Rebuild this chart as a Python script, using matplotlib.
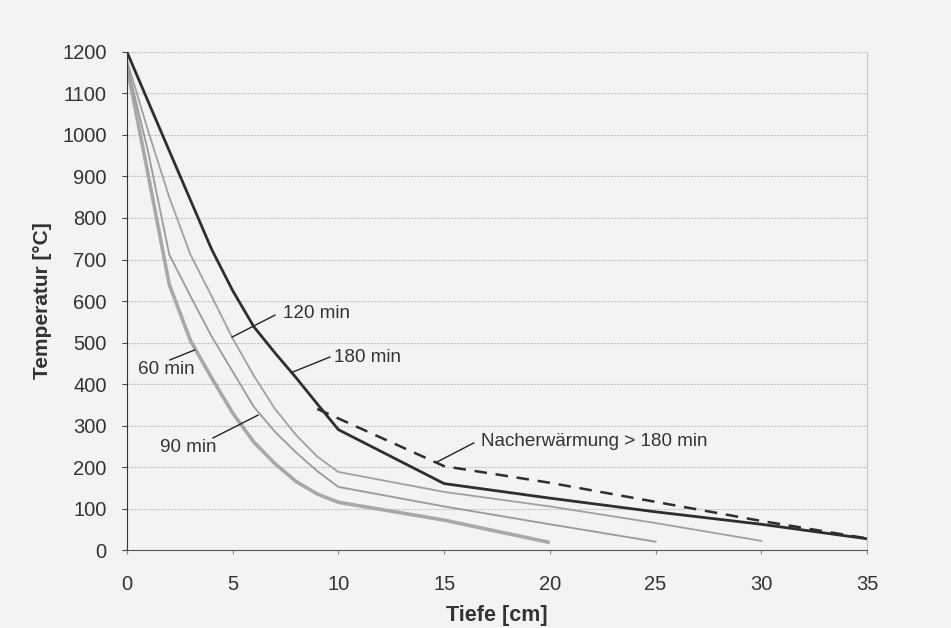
import matplotlib
matplotlib.use("Agg")
import matplotlib.pyplot as plt

# Tiefe [cm] / Temperatur [°C]
depth_60 = [0, 1, 2, 3, 4, 5, 6, 7, 8, 9, 10, 15, 20]
temp_60 = [1165, 905, 640, 505, 415, 330, 260, 208, 165, 135, 115, 72, 18]

depth_90 = [0, 1, 2, 3, 4, 5, 6, 7, 8, 9, 10, 15, 20, 25]
temp_90 = [1170, 960, 712, 612, 515, 430, 345, 285, 235, 190, 152, 105, 62, 20]

depth_120 = [0, 1, 2, 3, 4, 5, 6, 7, 8, 9, 10, 15, 20, 25, 30]
temp_120 = [1180, 1010, 850, 712, 612, 510, 420, 340, 277, 225, 188, 140, 105, 65, 22]

depth_180 = [0, 2, 4, 5, 6, 7, 8, 9, 10, 15, 20, 25, 30, 35]
temp_180 = [1200, 962, 725, 625, 538, 475, 415, 352, 290, 160, 125, 92, 62, 27]

depth_nach = [9, 15, 20, 25, 30, 35]
temp_nach = [340, 202, 162, 116, 70, 28]

x_ticks = [0, 5, 10, 15, 20, 25, 30, 35]
y_ticks = list(range(0, 1201, 100))

plt.rcParams["font.family"] = ["Liberation Sans", "DejaVu Sans"]

bg = "#f3f3f1"
fig = plt.figure(figsize=(9.51, 6.28), dpi=100, facecolor=bg)
ax = fig.add_axes([0.1335, 0.1242, 0.7782, 0.793])
ax.set_facecolor(bg)

ax.plot(depth_60, temp_60, color="#a8a8a8", linewidth=2.6, solid_capstyle="butt")
ax.plot(depth_90, temp_90, color="#9a9a9a", linewidth=1.3)
ax.plot(depth_120, temp_120, color="#a0a0a0", linewidth=1.3)
ax.plot(depth_180, temp_180, color="#2e2e2e", linewidth=2.0)
ax.plot(depth_nach, temp_nach, color="#2e2e2e", linewidth=1.8,
        linestyle=(0, (5, 3.5)))

ax.set_xlim(0, 35)
ax.set_ylim(0, 1200)
ax.set_xticks(x_ticks)
ax.set_yticks(y_ticks)
ax.grid(axis="y", color="#c4c4c4", linewidth=0.8, linestyle=(0, (2, 1)))
ax.set_axisbelow(True)

ax.spines["top"].set_visible(False)
ax.spines["right"].set_color("#c8c8c8")
ax.spines["right"].set_linewidth(0.8)
ax.spines["left"].set_color("#333333")
ax.spines["bottom"].set_color("#555555")
ax.tick_params(axis="y", length=3.6, width=0.8, color="#444444", pad=11,
               labelsize=14.5, labelcolor="#333333")
ax.tick_params(axis="x", length=3, width=0.8, color="#888888", pad=15,
               labelsize=14.5, labelcolor="#333333")

ax.set_xlabel("Tiefe [cm]", fontsize=15.5, fontweight="bold", color="#333333",
              labelpad=8)
ax.set_ylabel("Temperatur [°C]", fontsize=15, fontweight="bold", color="#333333",
              labelpad=7)

# Beschriftungen mit Hinweislinien
lead = dict(color="#222222", linewidth=1.0)
txt = dict(fontsize=13.6, color="#333333", va="center")
ax.plot([4.97, 7.0], [513, 566], **lead)
ax.text(7.4, 571, "120 min", **txt)
ax.plot([2.03, 3.2], [458, 482], **lead)
ax.text(0.5, 434, "60 min", **txt)
ax.plot([7.85, 9.6], [429, 465], **lead)
ax.text(9.8, 463, "180 min", **txt)
ax.plot([4.07, 6.2], [270, 325], **lead)
ax.text(1.55, 248, "90 min", **txt)
ax.plot([14.66, 16.4], [212, 258], **lead)
ax.text(16.75, 261, "Nacherwärmung > 180 min", **txt)

fig.savefig("out.png", dpi=100, facecolor=bg)
